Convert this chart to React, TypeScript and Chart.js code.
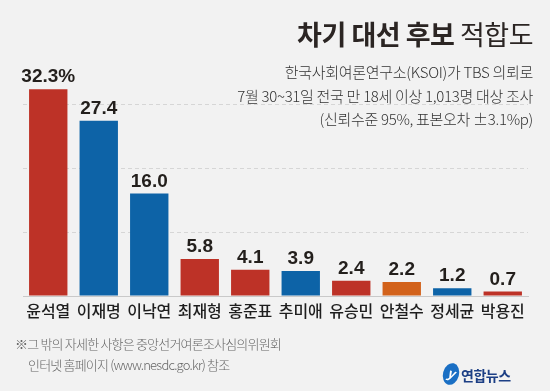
import React, { useEffect, useRef } from "react";
import { Chart, registerables } from "chart.js";

Chart.register(...registerables);

const categories = ["윤석열", "이재명", "이낙연", "최재형", "홍준표", "추미애", "유승민", "안철수", "정세균", "박용진"];
const values = [32.3, 27.4, 16.0, 5.8, 4.1, 3.9, 2.4, 2.2, 1.2, 0.7];
const valueLabels = ["32.3%", "27.4", "16.0", "5.8", "4.1", "3.9", "2.4", "2.2", "1.2", "0.7"];
const parties = ["R", "B", "B", "R", "R", "B", "R", "O", "B", "R"];
const partyColors: Record<string, string> = { R: "#bd3227", B: "#0d63a7", O: "#d2621b" };

const title = "차기 대선 후보";
const titleLight = "적합도";
const subtitleLines = [
  "한국사회여론연구소(KSOI)가 TBS 의뢰로",
  "7월 30~31일 전국 만 18세 이상 1,013명 대상 조사",
  "(신뢰수준 95%, 표본오차 ±3.1%p)",
];
const footLines = ["※그 밖의 자세한 사항은 중앙선거여론조사심의위원회", "인터넷 홈페이지 (www.nesdc.go.kr) 참조"];

const W = 550;
const H = 391;

export default function App() {
  const ref = useRef<HTMLCanvasElement>(null);

  useEffect(() => {
    const canvas = ref.current!;
    const labelPlugin = {
      id: "valueLabels",
      afterDatasetsDraw(chart: any) {
        const ctx = chart.ctx;
        const meta = chart.getDatasetMeta(0);
        ctx.save();
        ctx.font = "bold 19px 'Liberation Sans', Arial, sans-serif";
        ctx.fillStyle = "#231f1c";
        ctx.textAlign = "center";
        ctx.textBaseline = "alphabetic";
        meta.data.forEach((bar: any, i: number) => {
          ctx.fillText(valueLabels[i], bar.x, bar.y - 7);
        });
        ctx.restore();
      },
    };
    const chart = new Chart(canvas, {
      type: "bar",
      data: {
        labels: categories,
        datasets: [
          {
            data: values,
            backgroundColor: parties.map((p) => partyColors[p]),
            barPercentage: 0.76,
            categoryPercentage: 1,
            borderWidth: 0,
          },
        ],
      },
      options: {
        responsive: false,
        animation: false,
        devicePixelRatio: 1,
        layout: { padding: { top: 40, right: 22, left: 0, bottom: 0 } },
        plugins: { legend: { display: false }, tooltip: { enabled: false }, title: { display: false } },
        scales: {
          x: {
            grid: { display: false, drawTicks: false },
            border: { display: true, color: "#c9c9c9", width: 1 },
            ticks: {
              padding: 5,
              color: "#1e1e1e",
              font: { family: "'Noto Sans CJK KR', sans-serif", size: 16, weight: "500" as any },
            },
            afterFit(scale: any) {
              scale.height = 95;
            },
          },
          y: {
            min: 0,
            max: 40,
            ticks: { display: false, stepSize: 10 },
            border: { display: false, dash: [4, 3] },
            grid: {
              drawTicks: false,
              color: (c: any) => (c.tick && (c.tick.value === 0 || c.tick.value === 40) ? "rgba(0,0,0,0)" : "#d6d6d6"),
              lineWidth: 1,
            },
            afterFit(scale: any) {
              scale.width = 23;
            },
          },
        },
      },
      plugins: [labelPlugin],
    });
    return () => chart.destroy();
  }, []);

  return (
    <div
      style={{
        position: "absolute",
        left: 0,
        top: 0,
        width: W,
        height: H,
        background: "#f2f2f2",
        overflow: "hidden",
        fontFamily: "'Noto Sans CJK KR', sans-serif",
      }}
    >
      <canvas ref={ref} width={W} height={H} style={{ position: "absolute", left: 0, top: 0 }} />
      <div
        style={{
          position: "absolute",
          right: 17,
          top: 14,
          fontSize: 27,
          lineHeight: "40px",
          color: "#2b2523",
          letterSpacing: -0.5,
          whiteSpace: "nowrap",
        }}
      >
        <span style={{ fontWeight: 700 }}>{title}</span> <span style={{ fontWeight: 400 }}>{titleLight}</span>
      </div>
      {subtitleLines.map((t, i) => (
        <div
          key={i}
          style={{
            position: "absolute",
            right: 17,
            top: 61 + i * 23.5,
            fontSize: 15,
            lineHeight: "22px",
            fontWeight: 300,
            color: "#333",
            letterSpacing: -0.3,
            whiteSpace: "nowrap",
          }}
        >
          {t}
        </div>
      ))}
      {footLines.map((t, i) => (
        <div
          key={i}
          style={{
            position: "absolute",
            left: i === 0 ? 15 : 28,
            top: 334 + i * 21,
            fontSize: 13,
            lineHeight: "19px",
            fontWeight: 300,
            color: "#666",
            letterSpacing: -0.8,
            whiteSpace: "nowrap",
          }}
        >
          {t}
        </div>
      ))}
      <div style={{ position: "absolute", left: 443, top: 363, width: 16, height: 22, borderRadius: "50%", background: "#1a6fc4", transform: "rotate(15deg)", color: "#fff", fontSize: 13, fontStyle: "italic", fontWeight: 700, textAlign: "center", lineHeight: "20px" }}>
        y
      </div>
      <div style={{ position: "absolute", left: 461, top: 366, fontSize: 14, fontWeight: 700, color: "#1c3f85", lineHeight: "18px", letterSpacing: -0.5, whiteSpace: "nowrap" }}>
        연합뉴스
      </div>
    </div>
  );
}
